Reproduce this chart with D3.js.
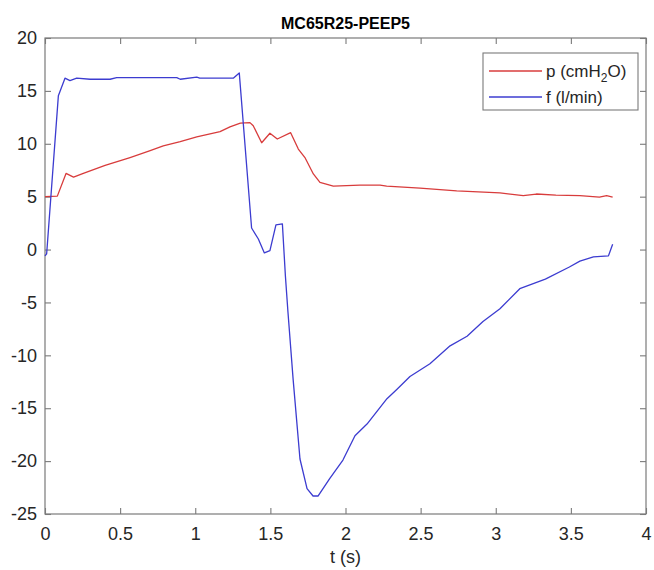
<!DOCTYPE html>
<html>
<head>
<meta charset="utf-8">
<script src="https://cdn.jsdelivr.net/npm/d3@7"></script>
<style>
  html, body { margin: 0; padding: 0; background: #fff; }
  svg { display: block; font-family: "Liberation Sans", Arial, Helvetica, sans-serif; }
</style>
</head>
<body>
<svg id="chart" width="654" height="570"></svg>
<script>
// Pressure trace p (cmH2O) over time
const tP = [0, 0.082, 0.14, 0.19, 0.255, 0.40, 0.566, 0.70, 0.787, 0.90, 1.01, 1.165, 1.231, 1.30, 1.364, 1.386, 1.442, 1.497, 1.546, 1.635, 1.686, 1.730, 1.786, 1.83, 1.919, 2.096, 2.23, 2.274, 2.496, 2.74, 3.028, 3.183, 3.27, 3.40, 3.56, 3.69, 3.738, 3.778];
const pVals = [5.0, 5.05, 7.2, 6.85, 7.2, 7.95, 8.7, 9.35, 9.8, 10.2, 10.65, 11.15, 11.6, 11.95, 12.0, 11.7, 10.1, 11.0, 10.45, 11.05, 9.5, 8.7, 7.15, 6.35, 6.0, 6.1, 6.1, 6.0, 5.8, 5.55, 5.35, 5.1, 5.25, 5.15, 5.1, 4.95, 5.1, 4.95];

// Flow trace f (l/min) over time
const tF = [0, 0.011, 0.089, 0.133, 0.166, 0.211, 0.30, 0.433, 0.477, 0.877, 0.90, 1.01, 1.03, 1.253, 1.293, 1.375, 1.42, 1.46, 1.497, 1.537, 1.58, 1.60, 1.617, 1.651, 1.697, 1.744, 1.784, 1.817, 1.897, 1.983, 2.063, 2.143, 2.276, 2.343, 2.429, 2.562, 2.696, 2.809, 2.915, 3.028, 3.16, 3.33, 3.49, 3.56, 3.65, 3.75, 3.778];
const fVals = [-0.6, -0.4, 14.55, 16.2, 15.97, 16.2, 16.1, 16.1, 16.25, 16.25, 16.1, 16.3, 16.2, 16.2, 16.7, 2.04, 1.0, -0.32, -0.1, 2.33, 2.42, -2.5, -5.9, -12.2, -19.8, -22.6, -23.3, -23.3, -21.6, -19.9, -17.6, -16.5, -14.1, -13.2, -12.0, -10.8, -9.1, -8.2, -6.8, -5.6, -3.7, -2.8, -1.65, -1.1, -0.7, -0.6, 0.5];

const xTicks = [0, 0.5, 1, 1.5, 2, 2.5, 3, 3.5, 4];
const yTicks = [-25, -20, -15, -10, -5, 0, 5, 10, 15, 20];

const titleText = "MC65R25-PEEP5";
const xLabel = "t (s)";
const seriesNames = ["p (cmH2O)", "f (l/min)"];
const seriesColors = ["#d83c3c", "#3c3cd0"];

const svg = d3.select("#chart");
const box = { left: 45, right: 646, top: 38, bottom: 514 };

const x = d3.scaleLinear().domain([0, 4]).range([box.left, box.right]);
const y = d3.scaleLinear().domain([-25, 20]).range([box.bottom, box.top]);

const axisColor = "#7a7a7a";
const textColor = "#262626";
const tickLen = 6;

// plot box
svg.append("rect")
  .attr("x", box.left).attr("y", box.top)
  .attr("width", box.right - box.left).attr("height", box.bottom - box.top)
  .attr("fill", "#fff").attr("stroke", axisColor).attr("stroke-width", 1.2);

// inward ticks on all four sides
const fmt = d => String(d);
const xAxisB = d3.axisBottom(x).tickValues(xTicks).tickSizeInner(-tickLen).tickSizeOuter(0).tickPadding(13).tickFormat(fmt);
const xAxisT = d3.axisTop(x).tickValues(xTicks).tickSizeInner(-tickLen).tickSizeOuter(0).tickFormat("");
const yAxisL = d3.axisLeft(y).tickValues(yTicks).tickSizeInner(-tickLen).tickSizeOuter(0).tickPadding(8).tickFormat(fmt);
const yAxisR = d3.axisRight(y).tickValues(yTicks).tickSizeInner(-tickLen).tickSizeOuter(0).tickFormat("");

function styleAxis(g) {
  g.select(".domain").remove();
  g.selectAll(".tick line").attr("stroke", axisColor).attr("stroke-width", 1.1);
  g.selectAll(".tick text").attr("fill", textColor).attr("font-size", 18)
    .attr("font-family", "'Liberation Sans', Arial, sans-serif");
}

svg.append("g").attr("transform", `translate(0,${box.bottom})`).call(xAxisB).call(styleAxis);
svg.append("g").attr("transform", `translate(0,${box.top})`).call(xAxisT).call(styleAxis);
svg.append("g").attr("transform", `translate(${box.left},0)`).call(yAxisL).call(styleAxis);
svg.append("g").attr("transform", `translate(${box.right},0)`).call(yAxisR).call(styleAxis);

// traces
const line = d3.line().x(d => x(d[0])).y(d => y(d[1]));
const pData = tP.map((t, i) => [t, pVals[i]]);
const fData = tF.map((t, i) => [t, fVals[i]]);

const plot = svg.append("g");
plot.append("path").datum(pData).attr("d", line)
  .attr("fill", "none").attr("stroke", seriesColors[0]).attr("stroke-width", 1.3)
  .attr("stroke-linejoin", "round");
plot.append("path").datum(fData).attr("d", line)
  .attr("fill", "none").attr("stroke", seriesColors[1]).attr("stroke-width", 1.3)
  .attr("stroke-linejoin", "round");

// title
svg.append("text")
  .attr("x", (box.left + box.right) / 2).attr("y", 29)
  .attr("text-anchor", "middle").attr("font-size", 16).attr("font-weight", "bold")
  .attr("fill", "#000").text(titleText);

// x label
svg.append("text")
  .attr("x", (box.left + box.right) / 2).attr("y", 563)
  .attr("text-anchor", "middle").attr("font-size", 18)
  .attr("fill", textColor).text(xLabel);

// legend
const lg = svg.append("g");
lg.append("rect")
  .attr("x", 483).attr("y", 53).attr("width", 155).attr("height", 57)
  .attr("fill", "#fff").attr("stroke", axisColor).attr("stroke-width", 1.1);

const legRows = [71, 97];
seriesNames.forEach((name, i) => {
  lg.append("line")
    .attr("x1", 489).attr("x2", 542)
    .attr("y1", legRows[i]).attr("y2", legRows[i])
    .attr("stroke", seriesColors[i]).attr("stroke-width", 1.3);
  const t = lg.append("text")
    .attr("x", 546).attr("y", legRows[i] + 6)
    .attr("font-size", 17).attr("fill", textColor);
  if (i === 0) {
    t.append("tspan").text("p (cmH");
    t.append("tspan").attr("dy", 5).attr("font-size", 12).text("2");
    t.append("tspan").attr("dy", -5).text("O)");
  } else {
    t.text(name);
  }
});
</script>
</body>
</html>
